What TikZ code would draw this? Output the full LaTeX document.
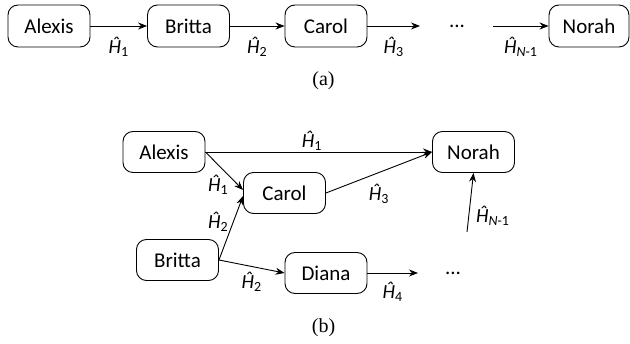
\documentclass[tikz,border=0pt]{standalone}
\usepackage{fontspec}
\setmainfont{Carlito}
\newfontfamily\capfont{Liberation Serif}
\usetikzlibrary{arrows.meta}
\newcommand{\Hh}[1]{\textit{\^H}\textsubscript{#1}}
\newcommand{\HN}{\textit{\^H}\textsubscript{\textit{N}-1}}
\begin{document}
\begin{tikzpicture}[x=1pt,y=-1pt,
  box/.style={draw,line width=0.9pt,rounded corners=10pt,minimum width=82pt,minimum height=41pt,inner sep=0pt,font=\fontsize{21}{25}\selectfont},
  tall/.style={minimum height=42pt},
  conn/.style={line width=0.9pt,-{Stealth[length=9pt,width=7pt]}},
  lbl/.style={font=\fontsize{20}{24}\selectfont,inner sep=0pt},
  dotsnode/.style={font=\fontsize{21}{25}\selectfont,inner sep=0pt,anchor=base},
  captext/.style={font=\capfont\fontsize{20}{24}\selectfont,inner sep=0pt}]
\useasboundingbox (0,0) rectangle (630,344);
% (a)
\node[box,tall] (a1) at (49,26) {Alexis};
\node[box,tall] (a2) at (188.5,26) {Britta};
\node[box,tall] (a3) at (326,26) {Carol};
\node[box,tall,minimum width=80pt] (a4) at (589,26) {Norah};
\coordinate (a3e) at (420,26);
\coordinate (a4s) at (493,26);
\node[dotsnode] (adots) at (457,28) {...};
\draw[conn] (a1) -- node[lbl,midway,yshift=-21pt] (la1) {\Hh{1}} (a2);
\draw[conn] (a2) -- node[lbl,midway,yshift=-21pt] (la2) {\Hh{2}} (a3);
\draw[conn] (a3) -- node[lbl,midway,yshift=-21pt] (la3) {\Hh{3}} (a3e);
\draw[conn] (a4s) -- node[lbl,midway,yshift=-21pt] (la4) {\HN} (a4);
\node[captext] (capa) at (323.5,81) {(a)};
% (b)
\node[box] (b1) at (164,152) {Alexis};
\node[box] (b3) at (284.5,193) {Carol};
\node[box] (b2) at (177.5,260) {Britta};
\node[box] (b4) at (326,273) {Diana};
\node[box] (b5) at (473.5,152) {Norah};
\coordinate (b4e) at (418,273);
\coordinate (bns) at (467,232);
\node[dotsnode] (bdots) at (453,275) {...};
\draw[conn] (b1.east) -- node[lbl,pos=0.47,yshift=11pt] (lb1) {\Hh{1}} (b5.west);
\draw[conn] (b1.east) -- node[lbl,pos=0.87,xshift=-20pt] (lb2) {\Hh{1}} ([yshift=3pt]b3.west);
\draw[conn] (b2.east) -- node[lbl,pos=0.59,xshift=-15pt] (lb3) {\Hh{2}} ([yshift=-3pt]b3.west);
\draw[conn] (b2.east) -- node[lbl,midway,yshift=-15pt] (lb4) {\Hh{2}} (b4.west);
\draw[conn] (b3.east) -- node[lbl,midway,yshift=-21pt] (lb5) {\Hh{3}} (b5.west);
\draw[conn] (b4.east) -- node[lbl,midway,yshift=-19pt] (lb6) {\Hh{4}} (b4e);
\draw[conn] (bns) -- node[lbl,pos=0.28,xshift=24pt] (lb7) {\HN} (b5.south);
\node[captext] (capb) at (323.5,328) {(b)};
\end{tikzpicture}
\end{document}
